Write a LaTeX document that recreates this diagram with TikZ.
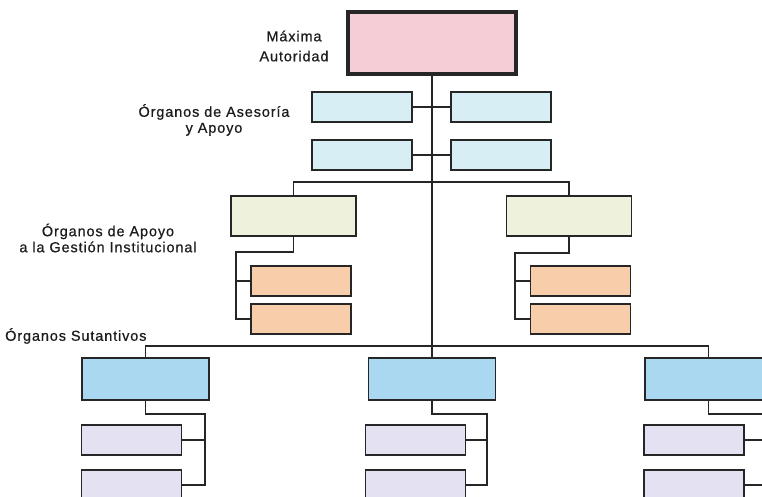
\documentclass[tikz,border=0pt]{standalone}
\usepackage{fontspec}
\setmainfont{Liberation Sans}[LetterSpace=6,FakeBold=0.6]
\begin{document}
\begin{tikzpicture}[x=1pt,y=-1pt,
  line join=miter,
  link/.style={draw=linec,line width=1.7pt},
  unit/.style={draw=linec,line width=1.7pt,rectangle,inner sep=0pt,minimum height=30pt,minimum width=100pt},
  head/.style={unit,fill=pinkc,line width=4.2pt,minimum width=168pt,minimum height=62pt},
  advice/.style={unit,fill=advc},
  support/.style={unit,fill=supc,minimum width=125pt,minimum height=40pt},
  subsupport/.style={unit,fill=orac},
  core/.style={unit,fill=corec,minimum width=127pt,minimum height=42pt},
  subcore/.style={unit,fill=purc},
  caption/.style={text=textc,font=\fontsize{14.5}{16}\selectfont,align=center,inner sep=0pt}
]
\definecolor{linec}{HTML}{262626}
\definecolor{textc}{HTML}{1C1C1C}
\definecolor{pinkc}{HTML}{F5CDD7}
\definecolor{advc}{HTML}{D6EEF4}
\definecolor{supc}{HTML}{EEF1DC}
\definecolor{orac}{HTML}{F8CDAA}
\definecolor{corec}{HTML}{AAD8F0}
\definecolor{purc}{HTML}{E4E2F2}

\clip (0,0) rectangle (762,497);
\fill[white] (0,0) rectangle (762,497);

% head of the organisation
\node[head] (top) at (432,43) {};

% advisory units
\node[advice] (a11) at (362,107) {};
\node[advice] (a12) at (501,107) {};
\node[advice] (a21) at (362,155) {};
\node[advice] (a22) at (501,155) {};

% institutional support
\node[support] (ap1) at (293.5,216) {};
\node[support] (ap2) at (569,216) {};
\node[subsupport] (o11) at (301,281) {};
\node[subsupport] (o12) at (301,319) {};
\node[subsupport] (o21) at (580.5,281) {};
\node[subsupport] (o22) at (580.5,319) {};

% substantive units
\node[core] (s1) at (145.5,379) {};
\node[core] (s2) at (432,379) {};
\node[core] (s3) at (708.5,379) {};
\node[subcore] (p11) at (131.5,440) {};
\node[subcore] (p12) at (131.5,485) {};
\node[subcore] (p21) at (415.5,440) {};
\node[subcore] (p22) at (415.5,485) {};
\node[subcore] (p31) at (694,440) {};
\node[subcore] (p32) at (694,485) {};

% bus points
\coordinate (bus1) at (432,182);
\coordinate (bus2) at (432,346);
\coordinate (sbL) at (236,252);
\coordinate (sbR) at (515,253);
\coordinate (pb1) at (205,414);
\coordinate (pb2) at (487,414);
\coordinate (pb3) at (766,414);

% trunk
\draw[link] (top.south) -- (s2.north);
% advisory links
\draw[link] (a11.east) -- (a12.west);
\draw[link] (a21.east) -- (a22.west);
% support tree
\draw[link] (ap1.north) |- (bus1) -| (ap2.north);
\draw[link] (ap1.south) |- (sbL) |- (o12.west);
\draw[link] (sbL |- o11.west) -- (o11.west);
\draw[link] (ap2.south) |- (sbR) |- (o22.west);
\draw[link] (sbR |- o21.west) -- (o21.west);
% substantive tree
\draw[link] (s1.north) |- (bus2) -| (s3.north);
\draw[link] (s1.south) |- (pb1) |- (p12.east);
\draw[link] (pb1 |- p11.east) -- (p11.east);
\draw[link] (s2.south) |- (pb2) |- (p22.east);
\draw[link] (pb2 |- p21.east) -- (p21.east);
\draw[link] (s3.south) |- (pb3) |- (p32.east);
\draw[link] (pb3 |- p31.east) -- (p31.east);

% level captions
\node[caption,font=\fontsize{14.5}{20}\selectfont] (l1) at (294,46) {Máxima\\Autoridad};
\node[caption] (l2) at (214,120) {Órganos de Asesoría\\y Apoyo};
\node[caption] (l3) at (108,238) {Órganos de Apoyo\\a la Gestión Institucional};
\node[caption,anchor=west] (l4) at (5,336) {Órganos Sutantivos};
\end{tikzpicture}
\end{document}
